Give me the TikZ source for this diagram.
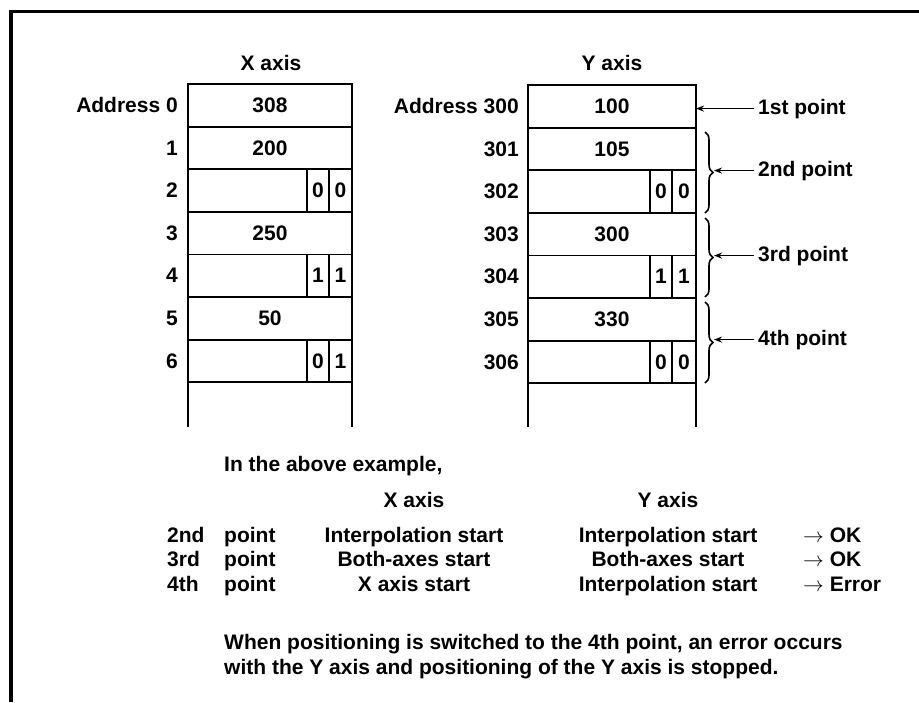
\documentclass[tikz,border=0pt]{standalone}
\usepackage{fontspec}
\setmainfont{Liberation Sans}
\usetikzlibrary{arrows.meta,decorations.pathreplacing}
\begin{document}
\begin{tikzpicture}[x=1pt,y=-1pt,
  txt/.style={font=\bfseries\fontsize{21}{25}\selectfont, inner sep=0pt, text=black},
  cell/.style={draw, line width=1.8pt, minimum width=#1, minimum height=42.6pt, inner sep=0pt, outer sep=0pt, anchor=north west, txt},
  lab/.style={txt, anchor=east},
  ptlab/.style={txt, anchor=base west, inner xsep=4pt},
  arr/.style={line width=1.6pt, -{Stealth[length=8pt,width=6pt]}},
  bracestyle/.style={line width=1.6pt, decorate, decoration={brace, amplitude=8pt}},
  frame/.style={line width=3.5pt, line join=miter}]
\useasboundingbox (0,0) rectangle (919,702);
% frame
\draw[frame] (919,11.5) -- (11,11.5) -- (11,702);

% ---------- X axis table ----------
\node[txt, anchor=base] (xt) at (271,70) {X axis};
\node[cell=164pt] (x0) at (188,84.0) {308};
\node[cell=164pt] (x1) at (188,126.6) {200};
\node[cell=164pt] (x2) at (188,169.2) {};
\node[cell=164pt] (x3) at (188,211.8) {250};
\node[cell=164pt] (x4) at (188,254.4) {};
\node[cell=164pt] (x5) at (188,297.0) {50};
\node[cell=164pt] (x6) at (188,339.6) {};
\node[cell=22pt] (x2a) at (307,169.2) {0};
\node[cell=23pt] (x2b) at (329,169.2) {0};
\node[cell=22pt] (x4a) at (307,254.4) {1};
\node[cell=23pt] (x4b) at (329,254.4) {1};
\node[cell=22pt] (x6a) at (307,339.6) {0};
\node[cell=23pt] (x6b) at (329,339.6) {1};
\coordinate (xl) at (188,427);
\coordinate (xr) at (352,427);
\draw[line width=1.8pt] (x6.south west) -- (xl);
\draw[line width=1.8pt] (x6.south east) -- (xr);
\node[lab] (xa0) at (178,105.3) {Address 0};
\node[lab] (xa1) at (178,147.9) {1};
\node[lab] (xa2) at (178,190.5) {2};
\node[lab] (xa3) at (178,233.1) {3};
\node[lab] (xa4) at (178,275.7) {4};
\node[lab] (xa5) at (178,318.3) {5};
\node[lab] (xa6) at (178,360.9) {6};

% ---------- Y axis table ----------
\node[txt, anchor=base] (yt) at (612,70) {Y axis};
\node[cell=168pt] (y0) at (528,85.0) {100};
\node[cell=168pt] (y1) at (528,127.6) {105};
\node[cell=168pt] (y2) at (528,170.2) {};
\node[cell=168pt] (y3) at (528,212.8) {300};
\node[cell=168pt] (y4) at (528,255.4) {};
\node[cell=168pt] (y5) at (528,298.0) {330};
\node[cell=168pt] (y6) at (528,340.6) {};
\node[cell=22pt] (y2a) at (650,170.2) {0};
\node[cell=24pt] (y2b) at (672,170.2) {0};
\node[cell=22pt] (y4a) at (650,255.4) {1};
\node[cell=24pt] (y4b) at (672,255.4) {1};
\node[cell=22pt] (y6a) at (650,340.6) {0};
\node[cell=24pt] (y6b) at (672,340.6) {0};
\coordinate (yl) at (528,427);
\coordinate (yr) at (696,427);
\draw[line width=1.8pt] (y6.south west) -- (yl);
\draw[line width=1.8pt] (y6.south east) -- (yr);
\node[lab] (ya0) at (519,106.3) {Address 300};
\node[lab] (ya1) at (519,148.9) {301};
\node[lab] (ya2) at (519,191.5) {302};
\node[lab] (ya3) at (519,234.1) {303};
\node[lab] (ya4) at (519,276.7) {304};
\node[lab] (ya5) at (519,319.3) {305};
\node[lab] (ya6) at (519,361.9) {306};

% ---------- point labels, braces, arrows ----------
\node[ptlab] (p1) at (754,114) {1st point};
\node[ptlab] (p2) at (754,176) {2nd point};
\node[ptlab] (p3) at (754,261) {3rd point};
\node[ptlab] (p4) at (754,345) {4th point};

\draw[bracestyle] (705,132) -- (705,213);
\draw[bracestyle] (705,218) -- (705,297);
\draw[bracestyle] (705,302) -- (705,383);
\coordinate (b1) at (714,172.5);
\coordinate (b2) at (714,257.5);
\coordinate (b3) at (714,342.5);

\draw[arr] (p1.west) -- (p1.west -| y0.east);
\draw[arr] (p2.west) -- (p2.west -| b1);
\draw[arr] (p3.west) -- (p3.west -| b2);
\draw[arr] (p4.west) -- (p4.west -| b3);

% ---------- explanation ----------
\node[txt, anchor=base west] (ex) at (224,471) {In the above example,};
\node[txt, anchor=base] (hx) at (414,507) {X axis};
\node[txt, anchor=base] (hy) at (668,507) {Y axis};

\node[txt, anchor=base west] (r1a) at (167,542) {2nd};
\node[txt, anchor=base west] (r1b) at (224,542) {point};
\node[txt, anchor=base] (r1x) at (414,542) {Interpolation start};
\node[txt, anchor=base] (r1y) at (668,542) {Interpolation start};
\node[txt, anchor=base west] (r1r) at (803,542) {$\rightarrow$\ OK};

\node[txt, anchor=base west] (r2a) at (167,566.5) {3rd};
\node[txt, anchor=base west] (r2b) at (224,566.5) {point};
\node[txt, anchor=base] (r2x) at (414,566.5) {Both-axes start};
\node[txt, anchor=base] (r2y) at (668,566.5) {Both-axes start};
\node[txt, anchor=base west] (r2r) at (803,566.5) {$\rightarrow$\ OK};

\node[txt, anchor=base west] (r3a) at (167,591) {4th};
\node[txt, anchor=base west] (r3b) at (224,591) {point};
\node[txt, anchor=base] (r3x) at (414,591) {X axis start};
\node[txt, anchor=base] (r3y) at (668,591) {Interpolation start};
\node[txt, anchor=base west] (r3r) at (803,591) {$\rightarrow$\ Error};

\node[txt, anchor=base west] (n1) at (224,649) {When positioning is switched to the 4th point, an error occurs};
\node[txt, anchor=base west] (n2) at (224,674) {with the Y axis and positioning of the Y axis is stopped.};
\end{tikzpicture}
\end{document}
